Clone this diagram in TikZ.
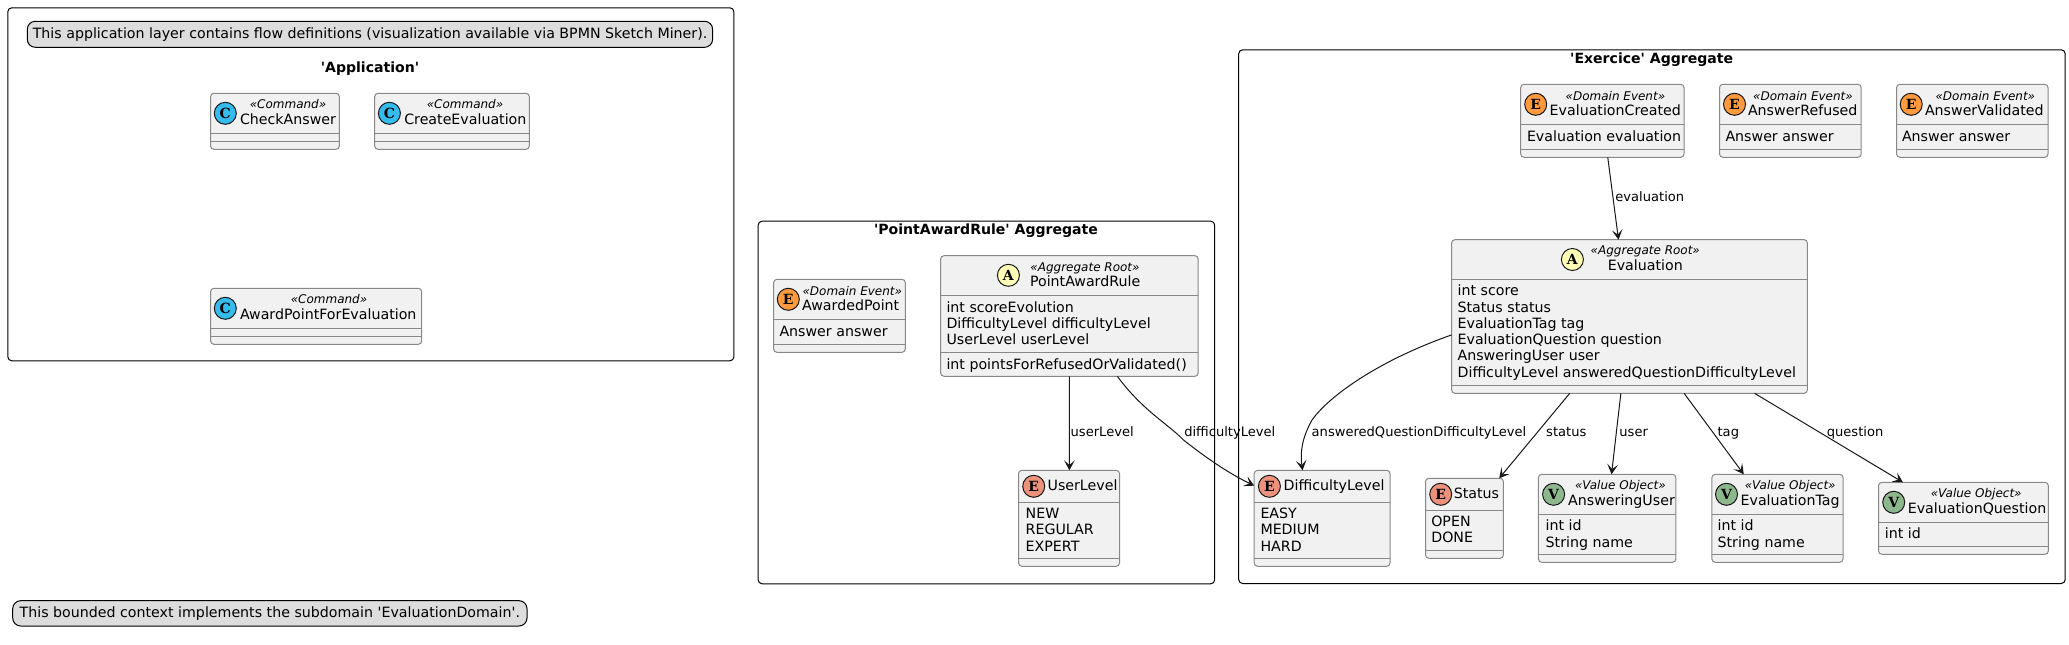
\documentclass[tikz,border=0pt]{standalone}
\usepackage{fontspec}
\setmainfont{DejaVu Sans}[Ligatures=TeXOff]
\newfontfamily\spotfont{DejaVu Serif}
\usetikzlibrary{calc,arrows.meta}
\definecolor{boxfill}{HTML}{F1F1F1}
\definecolor{boxline}{HTML}{888888}
\definecolor{notefill}{HTML}{DDDDDD}
\definecolor{inkline}{HTML}{181818}
\definecolor{spotE}{HTML}{FF9A3F}
\definecolor{spotN}{HTML}{EC917C}
\definecolor{spotA}{HTML}{FEFEB6}
\definecolor{spotV}{HTML}{8DB88D}
\definecolor{spotC}{HTML}{35BCEC}
\newcommand{\fs}[1]{\fontsize{#1}{#1}\selectfont}
\tikzset{
  x=0.75pt,y=-0.75pt,
  frame/.style={draw=black,line width=0.75pt,rounded corners=3pt,fill=white},
  classbox/.style={draw=boxline,line width=0.75pt,rounded corners=2.5pt,fill=boxfill,inner sep=0,outer sep=0,anchor=north west},
  sep/.style={draw=boxline,line width=0.75pt},
  notebox/.style={draw=black,line width=0.75pt,rounded corners=6pt,fill=notefill,inner sep=0,outer sep=0,anchor=north west},
  nametxt/.style={inner sep=0,outer sep=0,font=\fs{10.65},anchor=mid west},
  nametxtc/.style={inner sep=0,outer sep=0,font=\fs{10.65},anchor=mid},
  stereo/.style={inner sep=0,outer sep=0,font=\fs{9}\itshape,anchor=mid},
  attr/.style={inner sep=0,outer sep=0,font=\fs{10.65},anchor=mid west},
  title/.style={inner sep=0,outer sep=0,font=\fs{10.55}\bfseries,anchor=mid},
  lab/.style={inner sep=0,outer sep=0,font=\fs{9.8},anchor=mid west},
  notetxt/.style={inner sep=0,outer sep=0,font=\fs{10.65},anchor=mid},
  spot/.style={circle,draw=inkline,line width=0.75pt,minimum size=16.5pt,inner sep=0,outer sep=0,font=\spotfont\bfseries\fs{10.5}},
  conn/.style={draw=inkline,line width=0.75pt,-{Stealth[length=7.5pt,width=8pt,inset=3.6pt]}},
}
% #1 name, #2 x1, #3 y1, #4 x2, #5 y2, #6 y of header line, #7 y of second line
\newcommand{\classshape}[7]{%
  \node[classbox,minimum width={(#4-#2)*0.75pt},minimum height={(#5-#3)*0.75pt}] (#1) at (#2,#3) {};
  \draw[sep] (#2,#6) -- (#4,#6);
  \draw[sep] (#2,#7) -- (#4,#7);
}
\newcommand{\spotat}[5]{\node[spot,fill=#4] (#1) at (#2,#3) {#5};}
\begin{document}
\begin{tikzpicture}
\useasboundingbox (0,0) rectangle (2069,645);
\fill[white] (0,0) rectangle (2069,645);
% frames
\node[frame,inner sep=0,anchor=north west,minimum width={726.1*0.75pt},minimum height={353*0.75pt}] (appframe) at (7.3,7.3) {};
\node[frame,inner sep=0,anchor=north west,minimum width={456.6*0.75pt},minimum height={362.6*0.75pt}] (ruleframe) at (757.6,220.7) {};
\node[frame,inner sep=0,anchor=north west,minimum width={826.5*0.75pt},minimum height={533.7*0.75pt}] (exframe) at (1238.2,49.3) {};
\node[title] (apptitle) at (370,68.8) {'Application'};
\node[title] (ruletitle) at (986,231) {'PointAwardRule' Aggregate};
\node[title] (extitle) at (1651.7,60.3) {'Exercice' Aggregate};
% notes
\node[notebox,minimum width={685.3*0.75pt},minimum height={26*0.75pt}] (note1) at (27.3,21.3) {};
\node[notetxt] (note1t) at (370,35) {This application layer contains flow definitions (visualization available via BPMN Sketch Miner).};
\node[notebox,minimum width={514.3*0.75pt},minimum height={25.3*0.75pt}] (note2) at (12.7,600.7) {};
\node[notetxt] (note2t) at (269.8,614) {This bounded context implements the subdomain 'EvaluationDomain'.};
% commands
\classshape{check}{210.6}{93.3}{339.3}{149.3}{133.3}{141.3}
\spotat{checks}{225.3}{113.3}{spotC}{C}
\node[stereo] (checkst) at (288,105) {«Command»};
\node[nametxt] (checkn) at (240,121) {CheckAnswer};
\classshape{create}{374.7}{93.3}{529.3}{149.3}{133.3}{141.3}
\spotat{creates}{389.4}{113.3}{spotC}{C}
\node[stereo] (createst) at (465,105) {«Command»};
\node[nametxt] (createn) at (404.3,121) {CreateEvaluation};
\classshape{award}{210.6}{288.3}{421.7}{344.3}{328.3}{336.3}
\spotat{awards}{225.3}{308.3}{spotC}{C}
\node[stereo] (awardst) at (329,300) {«Command»};
\node[nametxt] (awardn) at (240,316) {AwardPointForEvaluation};
% PointAwardRule aggregate
\classshape{awarded}{773.6}{279.3}{905.3}{352.3}{319.3}{344.3}
\spotat{awardeds}{788.3}{299.3}{spotE}{E}
\node[stereo] (awardedst) at (852.3,291.7) {«Domain Event»};
\node[nametxt] (awardedn) at (802.2,307.3) {AwardedPoint};
\node[attr] (awardeda) at (779.5,333.3) {Answer answer};
\classshape{rule}{940.7}{255.7}{1198.2}{376.3}{295.3}{352.7}
\spotat{rules}{1008.4}{275.3}{spotA}{A}
\node[stereo] (rulest) at (1085,268) {«Aggregate Root»};
\node[nametxt] (rulen) at (1030,283.3) {PointAwardRule};
\node[attr] (rulea1) at (946.5,309.3) {int scoreEvolution};
\node[attr] (rulea2) at (946.5,325) {DifficultyLevel difficultyLevel};
\node[attr] (rulea3) at (946.5,341) {UserLevel userLevel};
\node[attr] (rulem) at (946.5,366) {int pointsForRefusedOrValidated()};
\classshape{ulevel}{1018.5}{470.3}{1119.5}{566.3}{502.3}{558.7}
\spotat{ulevels}{1033.7}{486.3}{spotN}{E}
\node[nametxt] (uleveln) at (1047.6,487.3) {UserLevel};
\node[attr] (ulevela1) at (1025.7,515) {NEW};
\node[attr] (ulevela2) at (1025.7,531.3) {REGULAR};
\node[attr] (ulevela3) at (1025.7,548) {EXPERT};
% Exercice aggregate
\classshape{created}{1520.7}{84.3}{1684}{157.3}{124.3}{149.3}
\spotat{createds}{1535.7}{104.3}{spotE}{E}
\node[stereo] (createdst) at (1615.4,96.7) {«Domain Event»};
\node[nametxt] (createdn) at (1549.7,112) {EvaluationCreated};
\node[attr] (createda) at (1527,138) {Evaluation evaluation};
\classshape{refused}{1719.5}{84.3}{1861.2}{157.3}{124.3}{149.3}
\spotat{refuseds}{1734.5}{104.3}{spotE}{E}
\node[stereo] (refusedst) at (1803,96.7) {«Domain Event»};
\node[nametxt] (refusedn) at (1748,112) {AnswerRefused};
\node[attr] (refuseda) at (1725.5,138) {Answer answer};
\classshape{validated}{1896.6}{84.3}{2048}{157.3}{124.3}{149.3}
\spotat{validateds}{1911.2}{104.3}{spotE}{E}
\node[stereo] (validatedst) at (1985.3,96.7) {«Domain Event»};
\node[nametxt] (validatedn) at (1925,112) {AnswerValidated};
\node[attr] (validateda) at (1902,138) {Answer answer};
\classshape{eval}{1451.6}{239.7}{1807.4}{393.3}{279.3}{385.3}
\spotat{evals}{1572.4}{259.5}{spotA}{A}
\node[stereo] (evalst) at (1645.3,250.7) {«Aggregate Root»};
\node[nametxtc] (evaln) at (1645.3,267) {Evaluation};
\node[attr] (evala1) at (1457.6,292.3) {int score};
\node[attr] (evala2) at (1457.6,309.3) {Status status};
\node[attr] (evala3) at (1457.6,325.3) {EvaluationTag tag};
\node[attr] (evala4) at (1457.6,341.3) {EvaluationQuestion question};
\node[attr] (evala5) at (1457.6,357.3) {AnsweringUser user};
\node[attr] (evala6) at (1457.6,374) {DifficultyLevel answeredQuestionDifficultyLevel};
\classshape{dlevel}{1254.2}{470.3}{1390}{566.3}{502.3}{558.7}
\spotat{dlevels}{1269.4}{486.3}{spotN}{E}
\node[nametxt] (dleveln) at (1283.7,487.3) {DifficultyLevel};
\node[attr] (dlevela1) at (1260.5,515) {EASY};
\node[attr] (dlevela2) at (1260.5,531.3) {MEDIUM};
\node[attr] (dlevela3) at (1260.5,548) {HARD};
\classshape{status}{1425.5}{478.3}{1503.4}{558.3}{510.3}{550.3}
\spotat{statuss}{1440.7}{494.3}{spotN}{E}
\node[nametxt] (statusn) at (1453.8,495.3) {Status};
\node[attr] (statusa1) at (1431.3,523.3) {OPEN};
\node[attr] (statusa2) at (1431.3,539.3) {DONE};
\classshape{auser}{1538.4}{474.3}{1675.8}{562.3}{514.3}{554.3}
\spotat{ausers}{1553.6}{494.3}{spotV}{V}
\node[stereo] (auserst) at (1620.4,485.7) {«Value Object»};
\node[nametxt] (ausern) at (1568.2,502) {AnsweringUser};
\node[attr] (ausera1) at (1545.7,527.3) {int id};
\node[attr] (ausera2) at (1545.7,544.3) {String name};
\classshape{tag}{1711.9}{474.3}{1843}{562.3}{514.3}{554.3}
\spotat{tags}{1726.5}{494.3}{spotV}{V}
\node[stereo] (tagst) at (1790.2,485.7) {«Value Object»};
\node[nametxt] (tagn) at (1740.6,502) {EvaluationTag};
\node[attr] (taga1) at (1717.6,527.3) {int id};
\node[attr] (taga2) at (1717.6,544.3) {String name};
\classshape{quest}{1878.5}{482.3}{2048.3}{554.3}{522.3}{546.3}
\spotat{quests}{1893.7}{502.3}{spotV}{V}
\node[stereo] (questst) at (1976.2,493.7) {«Value Object»};
\node[nametxt] (questn) at (1907.8,510) {EvaluationQuestion};
\node[attr] (questa1) at (1884.8,535.3) {int id};
% connectors
\draw[conn] ($(rule.south west)!.5!(rule.south east)$) -- ($(ulevel.north west)!.504!(ulevel.north east)$);
\draw[conn] ($(rule.south west)!.686!(rule.south east)$) .. controls (1142,410) and (1168,424) .. (1183.5,440) .. controls (1205,457) and (1228,473) .. ($(dlevel.north west)!.16!(dlevel.south west)$);
\draw[conn] ($(created.south west)!.533!(created.south east)$) -- ($(eval.north west)!.469!(eval.north east)$);
\draw[conn] ($(eval.north west)!.62!(eval.south west)$) .. controls (1380,360) and (1330,395) .. (1312,420) .. controls (1302,438) and (1300,452) .. ($(dlevel.north west)!.356!(dlevel.north east)$);
\draw[conn] ($(eval.south west)!.332!(eval.south east)$) -- ($(status.north west)!.946!(status.north east)$);
\draw[conn] ($(eval.south west)!.4757!(eval.south east)$) -- ($(auser.north west)!.532!(auser.north east)$);
\draw[conn] ($(eval.south west)!.6534!(eval.south east)$) -- ($(tag.north west)!.243!(tag.north east)$);
\draw[conn] ($(eval.south west)!.8514!(eval.south east)$) -- ($(quest.north west)!.144!(quest.north east)$);
% connector labels
\node[lab] (lab1) at (1070.7,432.7) {userLevel};
\node[lab] (lab2) at (1184.3,432.7) {difficultyLevel};
\node[lab] (lab3) at (1615.4,197.7) {evaluation};
\node[lab] (lab4) at (1311.7,432.7) {answeredQuestionDifficultyLevel};
\node[lab] (lab5) at (1546.2,432.7) {status};
\node[lab] (lab6) at (1619.4,432.7) {user};
\node[lab] (lab7) at (1717.6,432.7) {tag};
\node[lab] (lab8) at (1826.8,432.7) {question};
\end{tikzpicture}
\end{document}
